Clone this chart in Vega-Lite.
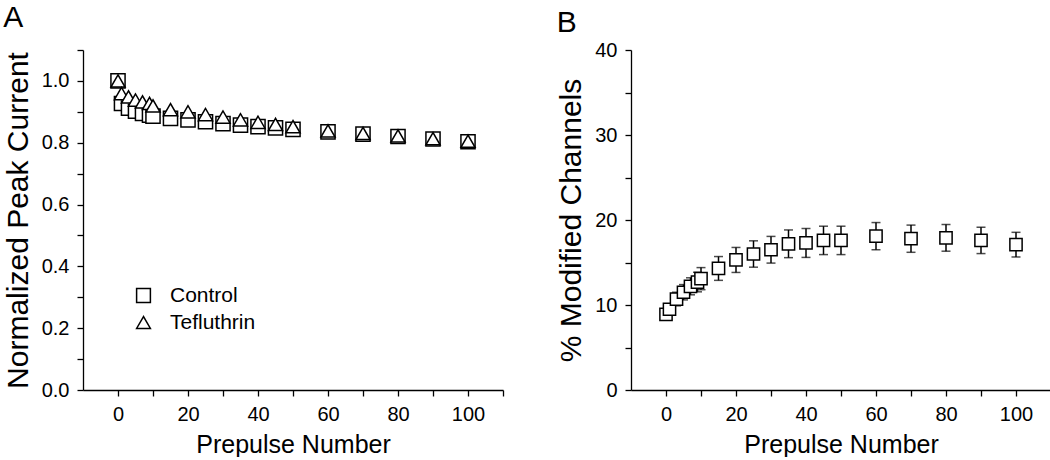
{
  "$schema": "https://vega.github.io/schema/vega-lite/v6.json",
  "background": "white",
  "padding": {"left": 3, "top": 3, "right": 0, "bottom": 0},
  "spacing": 52,
  "config": {
    "font": "Liberation Sans",
    "view": {"stroke": null},
    "axis": {
      "grid": false,
      "domainColor": "black",
      "domainWidth": 1.3,
      "tickColor": "black",
      "tickWidth": 1.3,
      "tickSize": 6,
      "labelColor": "black",
      "labelFontSize": 20,
      "labelFont": "Liberation Sans",
      "titleColor": "black",
      "titleFont": "Liberation Sans",
      "titleFontWeight": "normal",
      "labelPadding": 8,
      "labelFlush": false,
      "labelOverlap": false
    },
    "axisX": {"titleFontSize": 25, "titlePadding": 8},
    "axisY": {"titleFontSize": 30, "titlePadding": 8},
    "title": {"fontWeight": "normal", "font": "Liberation Sans", "fontSize": 30, "color": "black", "anchor": "start", "frame": "bounds"}
  },
  "datasets": {
    "a": [
      {"n": 0, "v": 1.0, "cond": "Control"},
      {"n": 1, "v": 0.927, "cond": "Control"},
      {"n": 3, "v": 0.912, "cond": "Control"},
      {"n": 5, "v": 0.902, "cond": "Control"},
      {"n": 7, "v": 0.895, "cond": "Control"},
      {"n": 9, "v": 0.889, "cond": "Control"},
      {"n": 10, "v": 0.886, "cond": "Control"},
      {"n": 15, "v": 0.879, "cond": "Control"},
      {"n": 20, "v": 0.874, "cond": "Control"},
      {"n": 25, "v": 0.868, "cond": "Control"},
      {"n": 30, "v": 0.862, "cond": "Control"},
      {"n": 35, "v": 0.857, "cond": "Control"},
      {"n": 40, "v": 0.852, "cond": "Control"},
      {"n": 45, "v": 0.848, "cond": "Control"},
      {"n": 50, "v": 0.843, "cond": "Control"},
      {"n": 60, "v": 0.835, "cond": "Control"},
      {"n": 70, "v": 0.828, "cond": "Control"},
      {"n": 80, "v": 0.82, "cond": "Control"},
      {"n": 90, "v": 0.812, "cond": "Control"},
      {"n": 100, "v": 0.803, "cond": "Control"},
      {"n": 0, "v": 1.0, "cond": "Tefluthrin"},
      {"n": 1, "v": 0.959, "cond": "Tefluthrin"},
      {"n": 3, "v": 0.948, "cond": "Tefluthrin"},
      {"n": 5, "v": 0.938, "cond": "Tefluthrin"},
      {"n": 7, "v": 0.932, "cond": "Tefluthrin"},
      {"n": 9, "v": 0.927, "cond": "Tefluthrin"},
      {"n": 10, "v": 0.919, "cond": "Tefluthrin"},
      {"n": 15, "v": 0.907, "cond": "Tefluthrin"},
      {"n": 20, "v": 0.9, "cond": "Tefluthrin"},
      {"n": 25, "v": 0.891, "cond": "Tefluthrin"},
      {"n": 30, "v": 0.883, "cond": "Tefluthrin"},
      {"n": 35, "v": 0.874, "cond": "Tefluthrin"},
      {"n": 40, "v": 0.866, "cond": "Tefluthrin"},
      {"n": 45, "v": 0.859, "cond": "Tefluthrin"},
      {"n": 50, "v": 0.852, "cond": "Tefluthrin"},
      {"n": 60, "v": 0.838, "cond": "Tefluthrin"},
      {"n": 70, "v": 0.83, "cond": "Tefluthrin"},
      {"n": 80, "v": 0.822, "cond": "Tefluthrin"},
      {"n": 90, "v": 0.813, "cond": "Tefluthrin"},
      {"n": 100, "v": 0.805, "cond": "Tefluthrin"}
    ],
    "b": [
      {"n": 0, "pct": 8.9, "err": 0.5},
      {"n": 1, "pct": 9.5, "err": 0.6},
      {"n": 3, "pct": 10.7, "err": 0.8},
      {"n": 5, "pct": 11.5, "err": 0.9},
      {"n": 7, "pct": 12.2, "err": 1.0},
      {"n": 9, "pct": 12.7, "err": 1.15},
      {"n": 10, "pct": 13.1, "err": 1.3},
      {"n": 15, "pct": 14.3, "err": 1.4},
      {"n": 20, "pct": 15.3, "err": 1.47},
      {"n": 25, "pct": 16.0, "err": 1.55},
      {"n": 30, "pct": 16.5, "err": 1.57},
      {"n": 35, "pct": 17.2, "err": 1.63},
      {"n": 40, "pct": 17.3, "err": 1.7},
      {"n": 45, "pct": 17.6, "err": 1.67},
      {"n": 50, "pct": 17.6, "err": 1.67},
      {"n": 60, "pct": 18.1, "err": 1.6},
      {"n": 70, "pct": 17.8, "err": 1.6},
      {"n": 80, "pct": 17.9, "err": 1.57},
      {"n": 90, "pct": 17.6, "err": 1.55},
      {"n": 100, "pct": 17.1, "err": 1.45}
    ]
  },
  "hconcat": [
    {
      "title": {"text": "A", "offset": 7},
      "width": 420,
      "height": 340,
      "data": {"name": "a"},
      "mark": {"type": "point", "filled": false, "strokeWidth": 1.5, "fill": "white", "fillOpacity": 1, "opacity": 1, "size": 200},
      "encoding": {
        "x": {
          "field": "n", "type": "quantitative",
          "scale": {"domain": [-10, 110], "nice": false, "zero": false},
          "axis": {"title": "Prepulse Number", "values": [0, 10, 20, 30, 40, 50, 60, 70, 80, 90, 100, 110],
                   "labelExpr": "datum.value % 20 == 0 && datum.value <= 100 ? datum.label : ''"}
        },
        "y": {
          "field": "v", "type": "quantitative",
          "scale": {"domain": [0, 1.1], "nice": false},
          "axis": {"title": "Normalized Peak Current", "values": [0, 0.1, 0.2, 0.3, 0.4, 0.5, 0.6, 0.7, 0.8, 0.9, 1.0, 1.1],
                   "format": ".1f",
                   "labelExpr": "(round(datum.value * 10) % 2 == 0 && datum.value < 1.05) ? datum.label : ''"}
        },
        "color": {
          "field": "cond", "type": "nominal",
          "scale": {"domain": ["Control", "Tefluthrin"], "range": ["black", "black"]}
        },
        "shape": {
          "field": "cond", "type": "nominal",
          "scale": {"domain": ["Control", "Tefluthrin"], "range": ["square", "triangle-up"]},
          "legend": {
            "title": null, "orient": "none", "legendX": 50, "legendY": 235,
            "labelFontSize": 21, "labelColor": "black", "labelFont": "Liberation Sans",
            "symbolSize": 190, "symbolStrokeWidth": 1.5, "symbolOpacity": 1, "labelOffset": 16, "rowPadding": 5
          }
        }
      }
    },
    {
      "title": {"text": "B", "offset": 2},
      "width": 420,
      "height": 340,
      "data": {"name": "b"},
      "layer": [
        {
          "mark": {"type": "errorbar", "color": "black", "ticks": {"size": 9, "thickness": 1.5, "color": "black"}, "rule": {"strokeWidth": 1.5, "color": "black"}},
          "encoding": {
            "x": {"field": "n", "type": "quantitative"},
            "y": {"field": "pct", "type": "quantitative"},
            "yError": {"field": "err"}
          }
        },
        {
          "mark": {"type": "point", "shape": "square", "filled": false, "stroke": "black", "strokeWidth": 1.5, "fill": "white", "fillOpacity": 1, "opacity": 1, "size": 150},
          "encoding": {
            "x": {"field": "n", "type": "quantitative"},
            "y": {"field": "pct", "type": "quantitative"}
          }
        }
      ],
      "encoding": {
        "x": {
          "field": "n", "type": "quantitative",
          "scale": {"domain": [-10, 110], "nice": false, "zero": false},
          "axis": {"title": "Prepulse Number", "values": [0, 10, 20, 30, 40, 50, 60, 70, 80, 90, 100, 110],
                   "labelExpr": "datum.value % 20 == 0 && datum.value <= 100 ? datum.label : ''"}
        },
        "y": {
          "field": "pct", "type": "quantitative",
          "scale": {"domain": [0, 40], "nice": false},
          "axis": {"title": "% Modified Channels", "values": [0, 5, 10, 15, 20, 25, 30, 35, 40],
                   "labelExpr": "datum.value % 10 == 0 ? datum.label : ''"}
        }
      }
    }
  ]
}
